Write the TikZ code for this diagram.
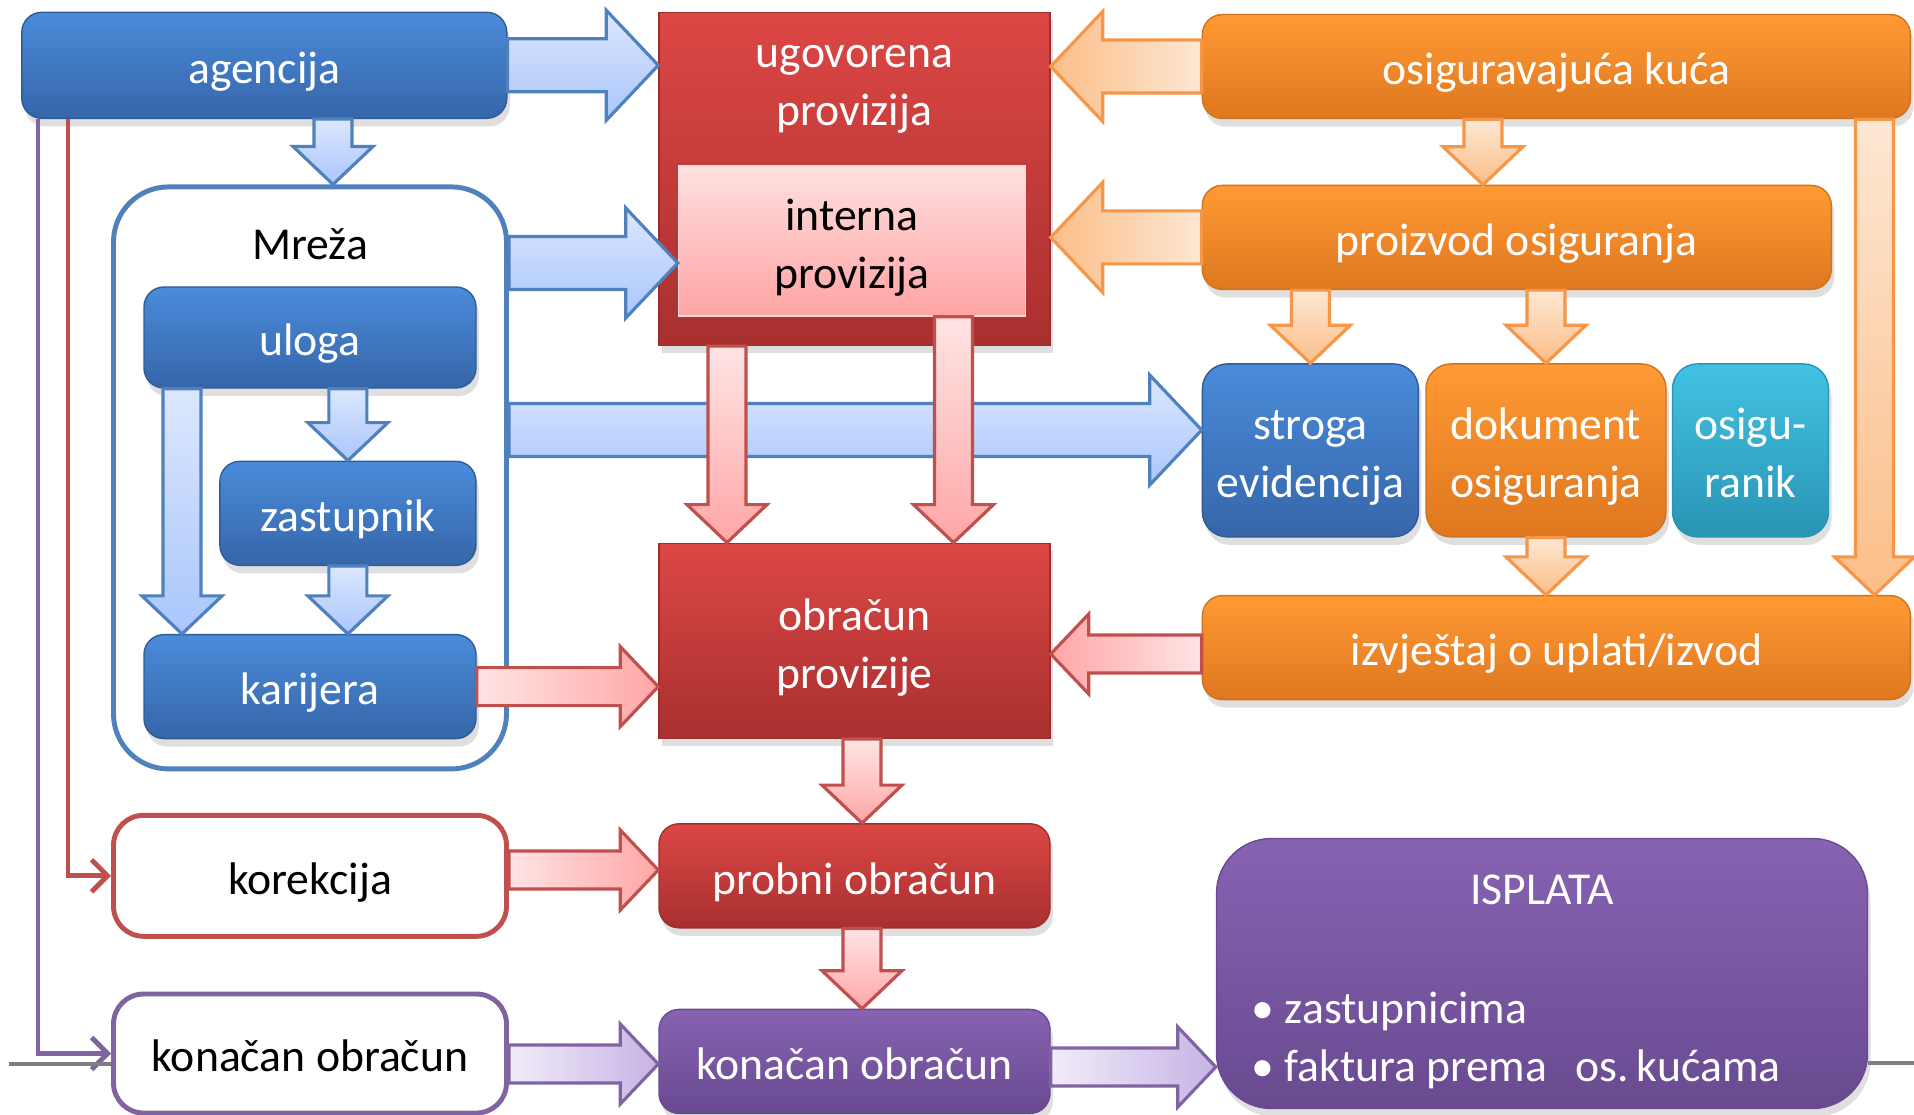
\documentclass[tikz,border=0pt]{standalone}
\usepackage{fontspec}
\setmainfont{Carlito}
\usetikzlibrary{positioning}
\usetikzlibrary{calc}
\usetikzlibrary{shadows}
\usetikzlibrary{arrows.meta}

\definecolor{bluetop}{HTML}{4A8BDA}
\definecolor{bluebot}{HTML}{3666A9}
\definecolor{blueedge}{HTML}{2F5C96}
\definecolor{redtop}{HTML}{DC4745}
\definecolor{redbot}{HTML}{A8302F}
\definecolor{rededge}{HTML}{9C2E2C}
\definecolor{orangetop}{HTML}{FF9A34}
\definecolor{orangebot}{HTML}{DE771F}
\definecolor{orangeedge}{HTML}{D0731E}
\definecolor{cyantop}{HTML}{43C2E3}
\definecolor{cyanbot}{HTML}{2994B4}
\definecolor{purpletop}{HTML}{8763B2}
\definecolor{purplebot}{HTML}{694A90}
\definecolor{pinktop}{HTML}{FFE0E0}
\definecolor{pinkbot}{HTML}{FFA3A3}
\definecolor{bluearr}{HTML}{4F81BD}
\definecolor{bluelight}{HTML}{DCE7FD}
\definecolor{bluedark}{HTML}{A9C6FC}
\definecolor{orangearr}{HTML}{F79646}
\definecolor{orangelight}{HTML}{FDE7D3}
\definecolor{orangedark}{HTML}{FBBE88}
\definecolor{redarr}{HTML}{C0504D}
\definecolor{redlight}{HTML}{FFE4E4}
\definecolor{reddark}{HTML}{FFA6A6}
\definecolor{purplearr}{HTML}{8064A2}
\definecolor{purplelight}{HTML}{F1ECF9}
\definecolor{purpledark}{HTML}{C6B3E5}

% fixed line box, so that text sits like in the slide
\newcommand{\tx}[1]{\rule{0pt}{1.05em}#1\rule[-0.25em]{0pt}{0.25em}}

\tikzset{
    box/.style={
    inner sep=0pt,
    align=center,
    text=white,
    drop shadow={opacity=0.25, shadow xshift=0.3mm, shadow yshift=-0.8mm}
    },
    bluebox/.style={box, rounded corners=2mm, top color=bluetop, bottom color=bluebot, draw=blueedge},
    redbox/.style={box, top color=redtop, bottom color=redbot, draw=rededge},
    orangebox/.style={box, rounded corners=2mm, top color=orangetop, bottom color=orangebot, draw=orangeedge},
    cyanbox/.style={box, rounded corners=2.5mm, top color=cyantop, bottom color=cyanbot, draw=cyanbot},
    purplebox/.style={box, rounded corners=2mm, top color=purpletop, bottom color=purplebot, draw=purplebot},
    framebox/.style={inner sep=0pt, align=center, fill=white, line width=1.4pt, rounded corners=3mm},
    fat shaft/.store in=\fatshaft, fat shaft=1.9mm,
    fat head/.store in=\fathead, fat head=4mm,
    fat len/.store in=\fatlen, fat len=3.8mm,
    fat/.style={line width=0.9pt, to path={let \p1=(\tikztostart), \p2=(\tikztotarget), \p3=($(\p2)!\fatlen!(\p1)$) in
        ($(\p1)!\fatshaft!90:(\p2)$) -- ($(\p3)!\fatshaft!-90:(\p1)$) -- ($(\p3)!\fathead!-90:(\p1)$) -- (\p2)
        -- ($(\p3)!\fathead!90:(\p1)$) -- ($(\p3)!\fatshaft!90:(\p1)$) -- ($(\p1)!\fatshaft!-90:(\p2)$) -- cycle}},
    fatwide/.style={fat shaft=2.65mm, fat head=5.5mm, fat len=5.2mm},
    fatslim/.style={fat shaft=1.9mm, fat head=4mm, fat len=3.8mm},
    bluearrow/.style={fat, draw=bluearr, top color=bluelight, bottom color=bluedark},
    orangedown/.style={fat, draw=orangearr, top color=orangelight, bottom color=orangedark},
    orangeleft/.style={fat, draw=orangearr, left color=orangedark, right color=orangelight},
    reddown/.style={fat, draw=redarr, top color=redlight, bottom color=reddark},
    redright/.style={fat, draw=redarr, left color=redlight, right color=reddark},
    redleft/.style={fat, draw=redarr, left color=reddark, right color=redlight},
    purpleright/.style={fat, draw=purplearr, left color=purplelight, right color=purpledark},
    redline/.style={draw=redarr, line width=1.4pt, -{Straight Barb[length=1.6mm,width=3.2mm]}},
    purpleline/.style={draw=purplearr, line width=1.4pt, -{Straight Barb[length=1.6mm,width=3.2mm]}}
}

\begin{document}
\begin{tikzpicture}
\fontsize{13pt}{16.5pt}\selectfont
\path[use as bounding box, fill=white] (0,0) rectangle (19.14,-11.14);
\clip (0,0) rectangle (19.14,-11.14);

% left column
\node [bluebox, minimum width=4.85cm, minimum height=1.06cm](agencija) at (2.643,-0.653) {\tx{agencija}};
\node [framebox, draw=bluearr, rounded corners=5.5mm, minimum width=3.93cm, minimum height=5.82cm](mreza) at (3.10,-4.779) {};
\node (mrezatxt) at ($(mreza.north)+(0,-0.565)$) {\tx{Mreža}};
\node [bluebox, minimum width=3.32cm, minimum height=1.01cm](uloga) at (3.10,-3.375) {\tx{uloga}};
\node [bluebox, minimum width=2.56cm, minimum height=1.04cm](zastupnik) at (3.479,-5.133) {\tx{zastupnik}};
\node [bluebox, minimum width=3.32cm, minimum height=1.04cm](karijera) at (3.10,-6.866) {\tx{karijera}};
\node [framebox, draw=redarr, minimum width=3.93cm, minimum height=1.21cm](korekcija) at (3.10,-8.758) {\tx{korekcija}};
\node [framebox, draw=purplearr, minimum width=3.93cm, minimum height=1.19cm](konacanul) at (3.10,-10.535) {\tx{konačan obračun}};

% middle column
\node [redbox, minimum width=3.91cm, minimum height=3.33cm](ugovorena) at (8.545,-1.789) {};
\node [text=white, align=center](ugovorenatxt) at ($(ugovorena.north)+(0,-0.67)$) {\tx{ugovorena\\provizija}};
\node [inner sep=0pt, align=center, top color=pinktop, bottom color=pinkbot, draw=red!15, minimum width=3.47cm, minimum height=1.50cm](interna) at (8.52,-2.41) {\tx{interna\\provizija}};
\node [redbox, minimum width=3.91cm, minimum height=1.95cm](obracun) at (8.545,-6.408) {\tx{obračun\\provizije}};
\node [redbox, rounded corners=2mm, minimum width=3.91cm, minimum height=1.04cm](probni) at (8.545,-8.758) {\tx{probni obračun}};
\node [purplebox, minimum width=3.91cm, minimum height=1.04cm](konacan) at (8.545,-10.614) {\tx{konačan obračun}};

% right column
\node [orangebox, minimum width=7.08cm, minimum height=1.04cm](kuca) at (15.564,-0.665) {\tx{osiguravajuća kuća}};
\node [orangebox, minimum width=6.29cm, minimum height=1.04cm](proizvod) at (15.168,-2.374) {\tx{proizvod osiguranja}};
\node [bluebox, rounded corners=2.5mm, minimum width=2.16cm, minimum height=1.73cm](stroga) at (13.104,-4.504) {\tx{stroga\\evidencija}};
\node [orangebox, rounded corners=2.5mm, minimum width=2.40cm, minimum height=1.73cm](dokument) at (15.46,-4.504) {\tx{dokument\\osiguranja}};
\node [cyanbox, minimum width=1.56cm, minimum height=1.73cm](osiguranik) at (17.505,-4.504) {\tx{osigu-\\ranik}};
\node [orangebox, minimum width=7.08cm, minimum height=1.04cm](izvjestaj) at (15.564,-6.476) {\tx{izvještaj o uplati/izvod}};
\node [purplebox, rounded corners=5.5mm, minimum width=6.51cm, minimum height=2.70cm](isplata) at (15.42,-9.735) {};
\node [text=white](isplatatxt) at (15.42,-8.90) {ISPLATA};
\node [text=white, align=left, anchor=west, inner sep=0pt](isplatalist) at (12.51,-10.40) {• zastupnicima\\• faktura prema\hspace{0.4em} os.\,kućama};

% blue arrows
\path[bluearrow, fatwide] (agencija.east) to (ugovorena.west |- agencija.east);
\path[bluearrow, fatslim] (agencija.south -| 3.33,0) to (mreza.north -| 3.33,0);
\path[bluearrow, fatwide] (mreza.east |- 0,-2.63) to (interna.west |- 0,-2.63);
\path[bluearrow, fatwide] (mreza.east |- 0,-4.30) to (stroga.west |- 0,-4.30);
\path[bluearrow, fatslim] (uloga.south -| zastupnik.north) to (zastupnik.north);
\path[bluearrow, fatslim] (zastupnik.south) to (zastupnik.south |- karijera.north);
\path[bluearrow, fatslim] (uloga.south -| 1.82,0) to (karijera.north -| 1.82,0);

% red arrows
\path[reddown, fatslim] (ugovorena.south -| 7.27,0) to (obracun.north -| 7.27,0);
\path[reddown, fatslim] (interna.south -| 9.535,0) to (obracun.north -| 9.535,0);
\path[redright, fatslim] (karijera.east) to (obracun.west |- karijera.east);
\path[redleft, fatslim] (izvjestaj.west |- 0,-6.54) to (obracun.east |- 0,-6.54);
\path[reddown, fatslim] (obracun.south -| 8.62,0) to (probni.north -| 8.62,0);
\path[reddown, fatslim] (probni.south -| 8.62,0) to (konacan.north -| 8.62,0);
\path[redright, fatslim] (korekcija.east |- 0,-8.70) to (probni.west |- 0,-8.70);

% orange arrows
\path[orangeleft, fatwide] (kuca.west) to (ugovorena.east |- kuca.west);
\path[orangeleft, fatwide] (proizvod.west) to (ugovorena.east |- proizvod.west);
\path[orangedown, fatslim] (kuca.south -| 14.83,0) to (proizvod.north -| 14.83,0);
\path[orangedown, fatslim] (proizvod.south -| stroga.north) to (stroga.north);
\path[orangedown, fatslim] (proizvod.south -| dokument.north) to (dokument.north);
\path[orangedown, fatslim] (dokument.south) to (dokument.south |- izvjestaj.north);
\path[orangedown, fatslim] (kuca.south -| 18.745,0) to (izvjestaj.north -| 18.745,0);

% purple arrows
\path[purpleright, fatslim] (konacanul.east |- 0,-10.64) to (konacan.west |- 0,-10.64);
\path[purpleright, fatslim] (konacan.east |- 0,-10.67) to (isplata.west |- 0,-10.67);

% feedback lines
\draw[redline] (agencija.south -| 0.68,0) |- (korekcija.west);
\draw[purpleline] (agencija.south -| 0.38,0) |- (konacanul.west);

\draw[gray, line width=1pt] (0.09,-10.64) -- (konacanul.west |- 0,-10.64);
\draw[gray, line width=1pt] (isplata.east |- 0,-10.63) -- (19.14,-10.63);

\end{tikzpicture}
\end{document}
